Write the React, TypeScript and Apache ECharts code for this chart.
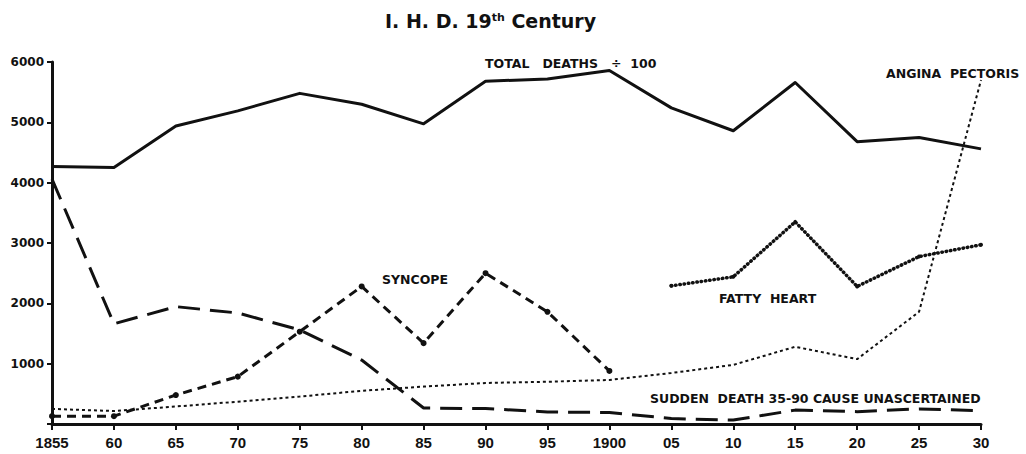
import React, { useEffect, useRef } from 'react';
import * as echarts from 'echarts';

const years = ['1855', '60', '65', '70', '75', '80', '85', '90', '95', '1900', '05', '10', '15', '20', '25', '30'];
const totalDeaths = [4270, 4250, 4940, 5190, 5480, 5300, 4975, 5680, 5720, 5860, 5240, 4860, 5660, 4680, 4750, 4560];
const suddenDeath = [4060, 1660, 1945, 1840, 1560, 1060, 265, 255, 200, 190, 90, 65, 230, 205, 250, 220];
const syncope = [130, 130, 480, 785, 1530, 2280, 1340, 2500, 1860, 880, null, null, null, null, null, null];
const fattyHeart = [null, null, null, null, null, null, null, null, null, null, 2290, 2440, 3350, 2280, 2775, 2970];
const anginaPectoris = [250, 215, 290, 370, 455, 550, 620, 680, 700, 730, 845, 980, 1280, 1075, 1860, 5700];

const INK = '#111';
const LABEL_FONT = '"DejaVu Sans", "Liberation Sans", sans-serif';

function labelText(text: string, x: number, y: number, size = 12.5) {
  return {
    type: 'text',
    silent: true,
    style: {
      text,
      x,
      y,
      fill: INK,
      fontFamily: LABEL_FONT,
      fontWeight: 'bold',
      fontSize: size,
      textVerticalAlign: 'middle',
    },
  };
}

export default function App() {
  const ref = useRef<HTMLDivElement>(null);
  useEffect(() => {
    const chart = echarts.init(ref.current!, null, { renderer: 'svg' });
    const option: any = {
      animation: false,
      backgroundColor: '#fff',
      grid: { left: 52, right: 45, top: 62, bottom: 30, containLabel: false },
      xAxis: {
        type: 'category',
        data: years,
        boundaryGap: false,
        axisLine: { lineStyle: { color: INK, width: 3 } },
        axisTick: { show: true, length: 6, lineStyle: { color: INK, width: 2 } },
        axisLabel: {
          color: INK,
          fontFamily: '"Liberation Sans", sans-serif',
          fontWeight: 'bold',
          fontSize: 15,
          margin: 11,
        },
        splitLine: { show: false },
      },
      yAxis: {
        type: 'value',
        min: 0,
        max: 6000,
        interval: 1000,
        axisLine: { show: true, lineStyle: { color: INK, width: 3 } },
        axisTick: { show: true, length: 5, lineStyle: { color: INK, width: 2 } },
        axisLabel: {
          color: INK,
          fontFamily: LABEL_FONT,
          fontWeight: 'bold',
          fontSize: 12,
          margin: 8,
          formatter: (v: number) => (v === 0 ? '' : String(v)),
        },
        splitLine: { show: false },
      },
      series: [
        {
          name: 'Total deaths ÷ 100',
          type: 'line',
          data: totalDeaths,
          showSymbol: false,
          lineStyle: { color: INK, width: 3, type: 'solid', join: 'round' },
        },
        {
          name: 'Sudden death 35-90 cause unascertained',
          type: 'line',
          data: suddenDeath,
          showSymbol: false,
          lineStyle: { color: INK, width: 3, type: [22, 10] },
        },
        {
          name: 'Syncope',
          type: 'line',
          data: syncope,
          symbol: 'circle',
          symbolSize: 6,
          showSymbol: true,
          itemStyle: { color: INK },
          lineStyle: { color: INK, width: 3, type: [9, 6] },
        },
        {
          name: 'Fatty heart',
          type: 'line',
          data: fattyHeart,
          symbol: 'circle',
          symbolSize: 4,
          showSymbol: true,
          itemStyle: { color: INK },
          lineStyle: { color: INK, width: 3.5, type: [0.5, 3.8], cap: 'round' },
        },
        {
          name: 'Angina pectoris',
          type: 'line',
          data: anginaPectoris,
          showSymbol: false,
          lineStyle: { color: INK, width: 2, type: [3, 3] },
        },
      ],
      graphic: [
        {
          type: 'text',
          silent: true,
          style: {
            text: 'I. H. D. 19{sup|th} Century',
            x: 385,
            y: 21,
            fill: INK,
            fontFamily: LABEL_FONT,
            fontWeight: 'bold',
            fontSize: 19,
            textVerticalAlign: 'middle',
            rich: {
              sup: {
                fontFamily: LABEL_FONT,
                fontWeight: 'bold',
                fontSize: 11,
                verticalAlign: 'top',
                fill: INK,
              },
            },
          },
        },
        labelText('TOTAL   DEATHS   ÷  100', 485, 63),
        labelText('ANGINA  PECTORIS', 886, 73),
        labelText('SYNCOPE', 382, 279),
        labelText('FATTY  HEART', 719, 298),
        labelText('SUDDEN  DEATH 35-90 CAUSE UNASCERTAINED', 650, 398),
      ],
    };
    chart.setOption(option);
    return () => chart.dispose();
  }, []);
  return (
    <div
      ref={ref}
      style={{ position: 'fixed', left: 0, top: 0, width: 1026, height: 454, background: '#fff' }}
    />
  );
}
